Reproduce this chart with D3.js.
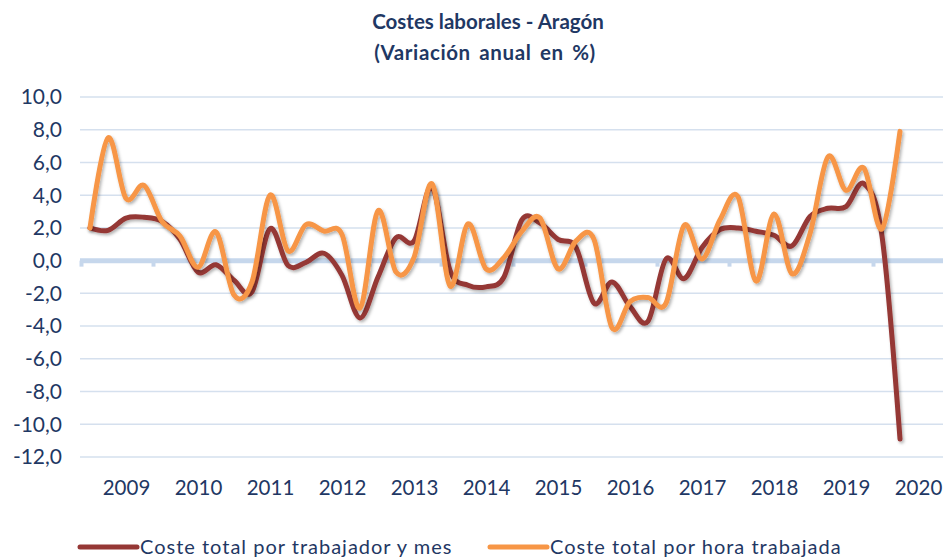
<!DOCTYPE html>
<html>
<head>
<meta charset="utf-8">
<script src="https://cdn.jsdelivr.net/npm/d3@7"></script>
<style>
  body { margin: 0; background: #fff; }
  svg { display: block; font-family: Lato, "Open Sans", sans-serif; }
</style>
</head>
<body>
<svg width="943" height="557"></svg>
<script>
// quarterly data, 2009 Q1 .. 2020 Q2
const years = [2009, 2010, 2011, 2012, 2013, 2014, 2015, 2016, 2017, 2018, 2019, 2020];
const yTicks = [10, 8, 6, 4, 2, 0, -2, -4, -6, -8, -10, -12];

const costeTrabajador = [
  2.0, 1.85, 2.6, 2.65, 2.4, 1.3, -0.7, -0.25, -1.2, -1.9,
  1.95, -0.3, -0.1, 0.45, -0.9, -3.5, -1.0, 1.4, 1.2, 4.5,
  -0.6, -1.5, -1.6, -1.0, 2.5, 2.3, 1.3, 0.8, -2.6, -1.3,
  -2.8, -3.7, 0.1, -1.1, 0.8, 1.9, 2.0, 1.8, 1.55, 0.9,
  2.7, 3.2, 3.3, 4.7, 1.5, -10.9
];
const costeHora = [
  2.0, 7.5, 3.8, 4.6, 2.4, 1.5, -0.4, 1.75, -2.1, -1.3,
  4.0, 0.6, 2.2, 1.8, 1.6, -2.9, 3.05, -0.7, 0.2, 4.7,
  -1.55, 2.25, -0.5, 0.2, 1.8, 2.6, -0.5, 1.2, 1.3, -4.1,
  -2.5, -2.25, -2.6, 2.15, 0.1, 2.5, 3.9, -1.25, 2.85, -0.8,
  1.65, 6.35, 4.3, 5.65, 1.95, 7.9
];

const seriesNames = ["Coste total por trabajador y mes", "Coste total por hora trabajada"];
const colors = ["#953735", "#F79646"];

function draw() {
  const svg = d3.select("svg");
  const textColor = "#1F3864";

  const x = d3.scaleLinear().domain([-0.5, 47.5]).range([81, 945]);
  const y = d3.scaleLinear().domain([-12, 10]).range([457, 97]);

  const defs = svg.append("defs");
  const shadow = defs.append("filter").attr("id", "shadow")
    .attr("x", "-5%").attr("y", "-5%").attr("width", "110%").attr("height", "110%");
  shadow.append("feDropShadow")
    .attr("dx", 1.5).attr("dy", 2).attr("stdDeviation", 1.5)
    .attr("flood-color", "#000").attr("flood-opacity", 0.3);

  // title
  svg.append("text")
    .attr("x", 488).attr("y", 29)
    .attr("text-anchor", "middle")
    .attr("font-size", 20.5).attr("font-weight", "bold")
    .attr("fill", textColor)
    .text("Costes laborales - Aragón");
  svg.append("text")
    .attr("x", 485).attr("y", 60)
    .attr("text-anchor", "middle")
    .attr("font-size", 20.5).attr("font-weight", "bold")
    .attr("letter-spacing", 0.6)
    .attr("word-spacing", 3)
    .attr("fill", textColor)
    .text("(Variación anual en %)");

  // gridlines
  svg.append("g")
    .selectAll("line")
    .data(yTicks.filter(d => d !== 0))
    .join("line")
    .attr("x1", 80).attr("x2", 943)
    .attr("y1", d => y(d)).attr("y2", d => y(d))
    .attr("stroke", "#D5E0EE")
    .attr("stroke-width", 1.5);

  // y labels
  svg.append("g")
    .selectAll("text")
    .data(yTicks)
    .join("text")
    .attr("x", 62)
    .attr("y", d => y(d))
    .attr("dy", "0.35em")
    .attr("text-anchor", "end")
    .attr("font-size", 21)
    .attr("fill", textColor)
    .text(d => d3.format(".1f")(d).replace(".", ",").replace("−", "-"));

  // zero line with year ticks
  const yearStarts = years.map((yr, i) => i * 4 - 0.5);
  const zeroAxis = d3.axisBottom(x)
    .tickValues(yearStarts)
    .tickSize(6)
    .tickFormat("");
  const za = svg.append("g")
    .attr("transform", `translate(0,${y(0)})`)
    .call(zeroAxis);
  za.select(".domain").remove();
  za.selectAll(".tick line").attr("stroke", "#C6D7EC").attr("stroke-width", 4);
  svg.append("line")
    .attr("x1", 80).attr("x2", 943)
    .attr("y1", y(0)).attr("y2", y(0))
    .attr("stroke", "#C6D7EC")
    .attr("stroke-width", 5);

  // year labels (at third quarter of each year)
  const xa = svg.append("g")
    .attr("transform", "translate(0,477)")
    .call(d3.axisBottom(x)
      .tickValues(years.map((yr, i) => i * 4 + 2))
      .tickSize(0)
      .tickFormat((d, i) => years[i]));
  xa.select(".domain").remove();
  xa.selectAll("text")
    .attr("font-size", 20.5)
    .attr("font-family", "Lato, 'Open Sans', sans-serif")
    .attr("fill", textColor);

  // lines
  const line = d3.line()
    .x((d, i) => x(i))
    .y(d => y(d))
    .curve(d3.curveCardinal.tension(0));

  [costeTrabajador, costeHora].forEach((values, k) => {
    svg.append("path")
      .datum(values)
      .attr("d", line)
      .attr("fill", "none")
      .attr("stroke", colors[k])
      .attr("stroke-width", 5)
      .attr("stroke-linejoin", "round")
      .attr("stroke-linecap", "round")
      .attr("filter", "url(#shadow)");
  });

  // legend
  const legendX = [80, 490];
  seriesNames.forEach((name, k) => {
    const lg = svg.append("g").attr("transform", `translate(${legendX[k]},547)`);
    lg.append("line")
      .attr("x1", 0).attr("x2", 57)
      .attr("y1", 0).attr("y2", 0)
      .attr("stroke", colors[k])
      .attr("stroke-width", 5)
      .attr("stroke-linecap", "round");
    lg.append("text")
      .attr("x", 60).attr("y", 0)
      .attr("dy", "0.35em")
      .attr("font-size", 20)
      .attr("letter-spacing", 1)
      .attr("fill", textColor)
      .text(name);
  });
}

window.onload = draw;
</script>
</body>
</html>
